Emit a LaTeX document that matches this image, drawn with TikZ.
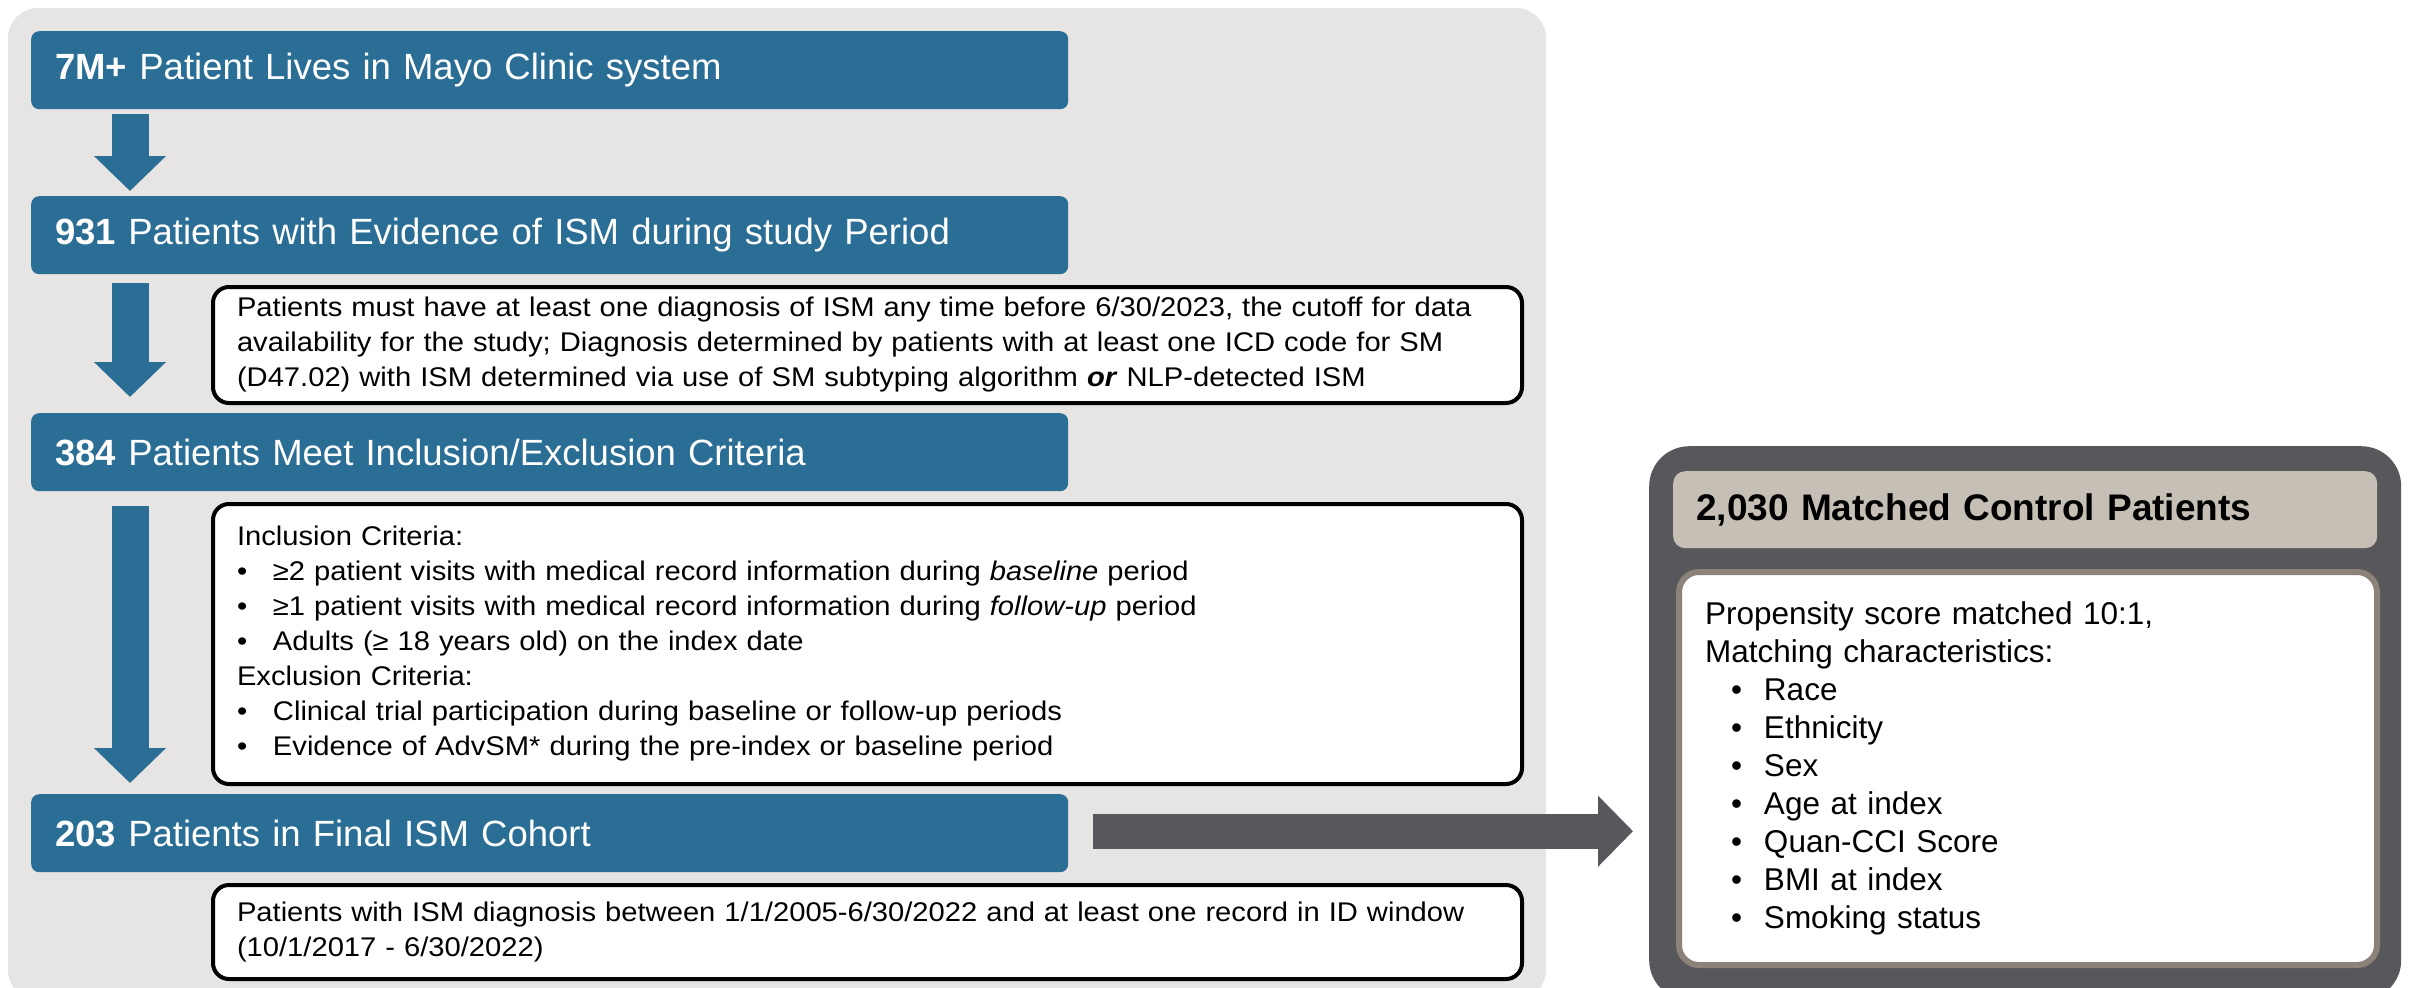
\documentclass[tikz,border=0pt]{standalone}
\usepackage{fontspec}
\setmainfont{Liberation Sans}
\newfontfamily\notefont[FakeStretch=1.08]{Liberation Sans}
\usepackage{xcolor}
\usetikzlibrary{arrows.meta}
\definecolor{panelgray}{HTML}{E6E5E3}
\definecolor{stageblue}{HTML}{2A6D95}
\definecolor{slate}{HTML}{58575C}
\definecolor{tanhead}{HTML}{C6BFB6}
\definecolor{tanedge}{HTML}{8B8279}
\tikzset{
  stagebox/.style = {fill=stageblue,text=white,rounded corners=8pt,anchor=north west,
                     inner xsep=24pt,inner ysep=0pt,minimum height=78pt,text width=989pt,
                     align=left,font=\fontsize{36.5}{42}\selectfont},
  notebox/.style  = {draw=black,line width=4pt,fill=white,rounded corners=16pt,
                     anchor=north west,inner xsep=24pt,inner ysep=0pt,text width=1261pt,
                     align=left,font=\notefont\fontsize{27}{35}\selectfont},
  downarr/.style  = {stageblue,line width=37pt,-{Triangle[length=35pt,width=70pt]}},
  sidearr/.style  = {slate,line width=35pt,-{Triangle[length=35pt,width=69pt]}}
}
\newcommand{\critem}[1]{\makebox[36pt][l]{\textbullet}#1}
\newcommand{\matchitem}[1]{\hspace*{26pt}\makebox[33pt][l]{\textbullet}#1}

\begin{document}
\begin{tikzpicture}[x=1pt,y=-1pt]
  \useasboundingbox (0,0) rectangle (2410,988);
  \fill[panelgray,rounded corners=30pt] (8,8) rectangle (1546,1000);

  % cohort steps
  \node[stagebox] (lives) at (31,31)
    {\textbf{7M+} Patient Lives in Mayo Clinic system};
  \node[stagebox] (ism) at (31,196)
    {\textbf{931} Patients with Evidence of ISM during study Period};
  \node[stagebox] (crit) at (31,413)
    {\textbf{384} Patients Meet Inclusion/Exclusion Criteria};
  \node[stagebox] (final) at (31,794)
    {\textbf{203} Patients in Final ISM Cohort};

  % notes
  \node[notebox,minimum height=116pt] (ismnote) at (211,285)
    {Patients must have at least one diagnosis of ISM any time before 6/30/2023, the cutoff for data\\
     availability for the study; Diagnosis determined by patients with at least one ICD code for SM\\
     (D47.02) with ISM determined via use of SM subtyping algorithm \textbf{\textit{or}} NLP-detected ISM};
  \node[notebox,minimum height=280pt] (critnote) at (211,502)
    {Inclusion Criteria:\\
     \critem{≥2 patient visits with medical record information during \textit{baseline} period}\\
     \critem{≥1 patient visits with medical record information during \textit{follow-up} period}\\
     \critem{Adults (≥ 18 years old) on the index date}\\
     Exclusion Criteria:\\
     \critem{Clinical trial participation during baseline or follow-up periods}\\
     \critem{Evidence of AdvSM* during the pre-index or baseline period}};
  \node[notebox,minimum height=94pt] (finalnote) at (211,883)
    {Patients with ISM diagnosis between 1/1/2005-6/30/2022 and at least one record in ID window\\
     (10/1/2017 - 6/30/2022)};

  % control group
  \node[fill=slate,rounded corners=40pt,anchor=north west,minimum width=752pt,
        minimum height=554pt] (ctrl) at (1649,446) {};
  \node[fill=tanhead,rounded corners=12pt,anchor=north west,inner xsep=23pt,
        minimum height=77pt,text width=658pt,align=left,
        font=\fontsize{37}{42}\selectfont\bfseries] (ctrlhead) at (1673,471)
    {2,030 Matched Control Patients};
  \node[draw=tanedge,line width=6pt,fill=white,rounded corners=20pt,anchor=north west,
        inner xsep=26pt,minimum height=393pt,text width=646pt,align=left,
        font=\fontsize{31.5}{38}\selectfont] (ctrlbody) at (1676,569)
    {Propensity score matched 10:1,\\
     Matching characteristics:\\
     \matchitem{Race}\\
     \matchitem{Ethnicity}\\
     \matchitem{Sex}\\
     \matchitem{Age at index}\\
     \matchitem{Quan-CCI Score}\\
     \matchitem{BMI at index}\\
     \matchitem{Smoking status}};

  % arrows
  \draw[downarr] ([xshift=99pt,yshift=-5pt]lives.south west) -- ([xshift=99pt,yshift=5pt]ism.north west);
  \draw[downarr] ([xshift=99pt,yshift=-9pt]ism.south west) -- ([xshift=99pt,yshift=16pt]crit.north west);
  \draw[downarr] ([xshift=99pt,yshift=-15pt]crit.south west) -- ([xshift=99pt,yshift=11pt]final.north west);
  \draw[sidearr] ([xshift=25pt,yshift=2pt]final.east) -- ([xshift=-16pt,yshift=2pt]ctrl.west |- final.east);
\end{tikzpicture}
\end{document}
